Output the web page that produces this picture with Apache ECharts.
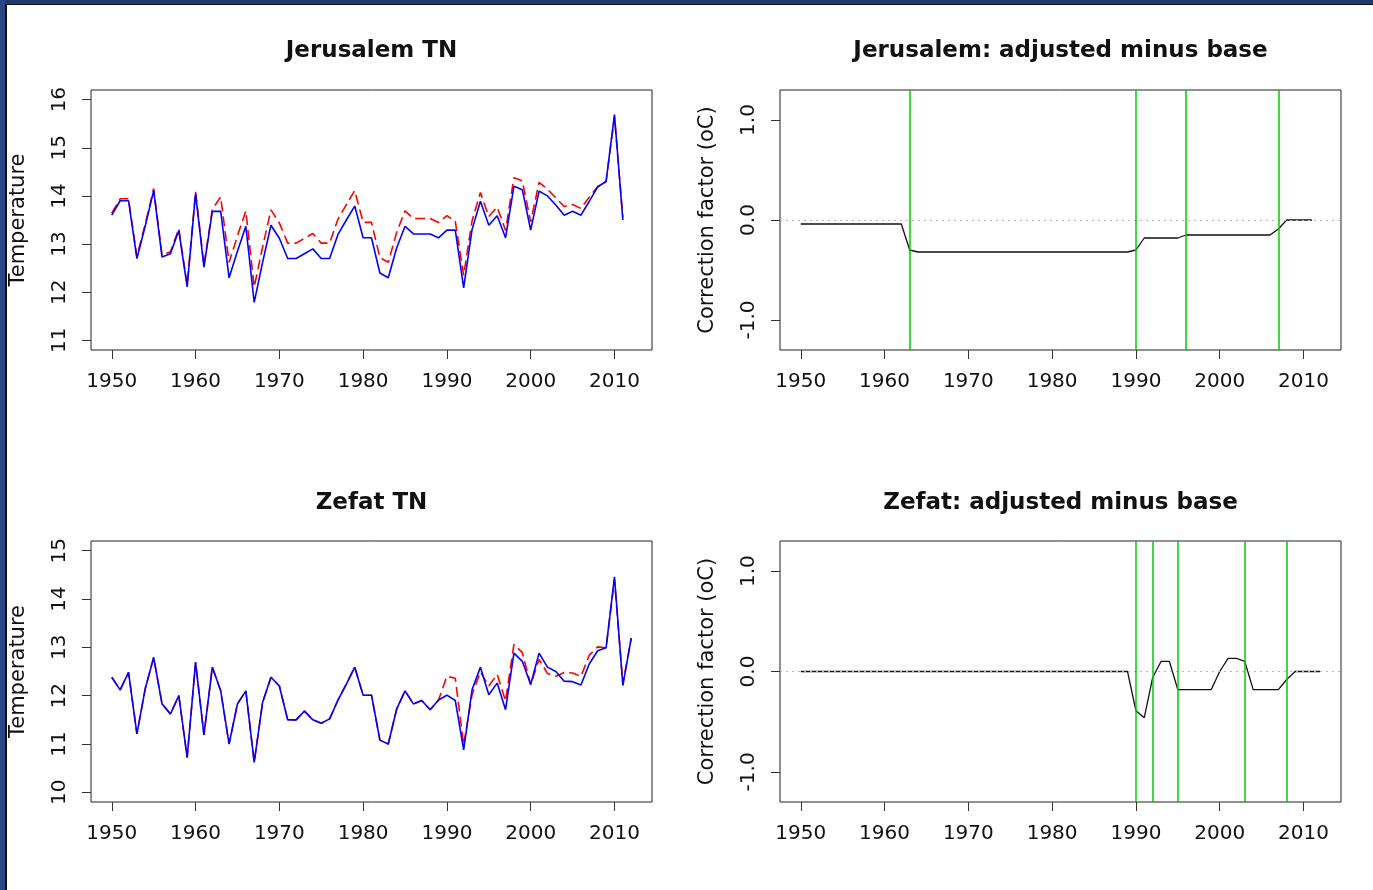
<!DOCTYPE html>
<html><head><meta charset="utf-8">
<script src="https://cdn.jsdelivr.net/npm/echarts@6/dist/echarts.min.js"></script>
<style>
html,body{margin:0;padding:0;background:#fff;}
#c{position:absolute;left:0;top:0;width:1373px;height:890px;}
.fb{position:absolute;}
</style></head><body>
<div id="c"></div>
<div class="fb" style="left:0;top:0;width:1373px;height:4px;background:#22386f"></div>
<div class="fb" style="left:0;top:4px;width:1373px;height:1px;background:#111"></div>
<div class="fb" style="left:0;top:0;width:5px;height:890px;background:#2a4584"></div>
<div class="fb" style="left:5px;top:4px;width:2px;height:886px;background:#111"></div>
<script>
// ---------- data ----------
const yearsJer = [1950,1951,1952,1953,1954,1955,1956,1957,1958,1959,
  1960,1961,1962,1963,1964,1965,1966,1967,1968,1969,
  1970,1971,1972,1973,1974,1975,1976,1977,1978,1979,
  1980,1981,1982,1983,1984,1985,1986,1987,1988,1989,
  1990,1991,1992,1993,1994,1995,1996,1997,1998,1999,
  2000,2001,2002,2003,2004,2005,2006,2007,2008,2009,
  2010,2011];
const yearsZef = [1950,1951,1952,1953,1954,1955,1956,1957,1958,1959,
  1960,1961,1962,1963,1964,1965,1966,1967,1968,1969,
  1970,1971,1972,1973,1974,1975,1976,1977,1978,1979,
  1980,1981,1982,1983,1984,1985,1986,1987,1988,1989,
  1990,1991,1992,1993,1994,1995,1996,1997,1998,1999,
  2000,2001,2002,2003,2004,2005,2006,2007,2008,2009,
  2010,2011,2012];

// Jerusalem TN: base (red dashed) and adjusted (blue)
const jerBase = [13.64,13.94,13.94,12.74,13.42,14.15,12.77,12.84,13.32,12.15,
  14.09,12.56,13.72,13.98,12.62,13.17,13.69,12.11,12.94,13.71,
  13.44,13.02,13.02,13.12,13.22,13.02,13.02,13.52,13.82,14.11,
  13.45,13.45,12.72,12.62,13.24,13.69,13.53,13.53,13.53,13.45,
  13.59,13.47,12.35,13.48,14.07,13.57,13.77,13.28,14.38,14.31,
  13.46,14.28,14.14,13.96,13.78,13.82,13.74,13.98,14.19,14.30,
  15.64,13.56];
const jerAdj = [13.60,13.90,13.90,12.70,13.38,14.11,12.73,12.80,13.28,12.11,
  14.05,12.52,13.68,13.68,12.30,12.85,13.37,11.79,12.62,13.39,
  13.12,12.70,12.70,12.80,12.90,12.70,12.70,13.20,13.50,13.79,
  13.13,13.13,12.40,12.30,12.92,13.37,13.21,13.21,13.21,13.13,
  13.29,13.29,12.09,13.30,13.89,13.39,13.59,13.13,14.20,14.13,
  13.29,14.10,14.00,13.81,13.60,13.68,13.60,13.89,14.19,14.30,
  15.69,13.50];
// Jerusalem: adjusted minus base
const jerCorr = [-0.04,-0.04,-0.04,-0.04,-0.04,-0.04,-0.04,-0.04,-0.04,-0.04,
  -0.04,-0.04,-0.04,-0.30,-0.32,-0.32,-0.32,-0.32,-0.32,-0.32,
  -0.32,-0.32,-0.32,-0.32,-0.32,-0.32,-0.32,-0.32,-0.32,-0.32,
  -0.32,-0.32,-0.32,-0.32,-0.32,-0.32,-0.32,-0.32,-0.32,-0.32,
  -0.30,-0.18,-0.18,-0.18,-0.18,-0.18,-0.15,-0.15,-0.15,-0.15,
  -0.15,-0.15,-0.15,-0.15,-0.15,-0.15,-0.15,-0.09,0.00,0.00,
  0.00,0.00];
const jerBreaks = [1963, 1990, 1996, 2007];

// Zefat TN: base (red dashed) and adjusted (blue)
const zefBase = [12.38,12.12,12.48,11.21,12.15,12.79,11.83,11.62,12.00,10.72,
  12.69,11.19,12.59,12.10,11.00,11.83,12.10,10.62,11.86,12.38,
  12.20,11.50,11.50,11.68,11.50,11.43,11.52,11.91,12.24,12.59,
  12.01,12.01,11.08,11.00,11.72,12.10,11.83,11.90,11.71,11.91,
  12.40,12.36,10.98,12.02,12.49,12.20,12.44,11.89,13.06,12.89,
  12.23,12.75,12.46,12.40,12.48,12.47,12.40,12.84,13.01,12.99,
  14.40,12.25,13.19];
const zefAdj = [12.38,12.12,12.48,11.21,12.15,12.79,11.83,11.62,12.00,10.72,
  12.69,11.19,12.59,12.10,11.00,11.83,12.10,10.62,11.86,12.38,
  12.20,11.50,11.50,11.68,11.50,11.43,11.52,11.91,12.24,12.59,
  12.01,12.01,11.08,11.00,11.72,12.10,11.83,11.90,11.71,11.91,
  12.01,11.90,10.88,12.12,12.59,12.02,12.26,11.71,12.88,12.71,
  12.23,12.88,12.59,12.50,12.30,12.29,12.22,12.66,12.93,12.99,
  14.46,12.21,13.19];
// Zefat: adjusted minus base
const zefCorr = [0,0,0,0,0,0,0,0,0,0,
  0,0,0,0,0,0,0,0,0,0,
  0,0,0,0,0,0,0,0,0,0,
  0,0,0,0,0,0,0,0,0,0,
  -0.39,-0.46,-0.06,0.10,0.10,-0.18,-0.18,-0.18,-0.18,-0.18,
  0.00,0.13,0.13,0.10,-0.18,-0.18,-0.18,-0.18,-0.08,0.00,
  0.00,0.00,0.00];
const zefBreaks = [1990, 1992, 1995, 2003, 2008];

// tick labels
const xTicks = [1950,1960,1970,1980,1990,2000,2010];
const yTicksJer = [11,12,13,14,15,16];
const yTicksZef = [10,11,12,13,14,15];
const yTicksCorr = [-1,0,1];

// ---------- chart ----------
const FONT = 'DejaVu Sans';
const INK = '#111';
const pairs = (xs, ys) => xs.map((x, i) => [x, ys[i]]);

const grids = [
  {left: 91, top: 90, width: 561, height: 260},
  {left: 780, top: 90, width: 561, height: 260},
  {left: 91, top: 541, width: 561, height: 261},
  {left: 780, top: 541, width: 561, height: 261}
].map(g => Object.assign({show: true, borderColor: '#222', borderWidth: 1, backgroundColor: 'transparent', outerBoundsMode: 'none', containLabel: false}, g));

function xAxisFor(gi) {
  return {
    gridIndex: gi, type: 'value', min: 1947.52, max: 2014.48, position: 'bottom',
    axisLine: {show: false, onZero: false}, splitLine: {show: false},
    axisTick: {show: true, length: 9, customValues: xTicks, lineStyle: {color: '#333', width: 1}},
    axisLabel: {customValues: xTicks, margin: 22, formatter: v => String(v), fontFamily: FONT, fontSize: 20, color: INK, hideOverlap: false}
  };
}
function yAxisFor(gi, min, max, ticks, name, fmt) {
  return {
    gridIndex: gi, type: 'value', min: min, max: max, position: 'left',
    name: name, nameLocation: 'middle', nameGap: 62, nameRotate: 90,
    nameMoveOverlap: false,
    nameTextStyle: {fontFamily: FONT, fontSize: 21, color: INK},
    axisLine: {show: false, onZero: false}, splitLine: {show: false},
    axisTick: {show: true, length: 9, customValues: ticks, lineStyle: {color: '#333', width: 1}},
    axisLabel: {customValues: ticks, rotate: 90, margin: 21, formatter: fmt, fontFamily: FONT, fontSize: 20, color: INK, hideOverlap: false}
  };
}
const intFmt = v => String(Math.round(v));
const corrFmt = v => v.toFixed(1);

function breakLines(breaks) {
  return [{yAxis: 0, lineStyle: {color: '#b8b8b8', type: [2, 4], width: 1}}]
    .concat(breaks.map(v => ({xAxis: v, lineStyle: {color: '#00cc00', type: 'solid', width: 1.5}})));
}

const titleStyle = {fontFamily: FONT, fontWeight: 'bold', fontSize: 23, color: INK};
const option = {
  animation: false,
  backgroundColor: '#ffffff',
  title: [
    {text: 'Jerusalem TN', left: 371.5, top: 40, textAlign: 'center', padding: 0, textStyle: titleStyle},
    {text: 'Jerusalem: adjusted minus base', left: 1060.5, top: 40, textAlign: 'center', padding: 0, textStyle: titleStyle},
    {text: 'Zefat TN', left: 371.5, top: 492, textAlign: 'center', padding: 0, textStyle: titleStyle},
    {text: 'Zefat: adjusted minus base', left: 1060.5, top: 492, textAlign: 'center', padding: 0, textStyle: titleStyle}
  ],
  grid: grids,
  xAxis: [xAxisFor(0), xAxisFor(1), xAxisFor(2), xAxisFor(3)],
  yAxis: [
    yAxisFor(0, 10.8, 16.2, yTicksJer, 'Temperature', intFmt),
    yAxisFor(1, -1.3, 1.3, yTicksCorr, 'Correction factor (oC)', corrFmt),
    yAxisFor(2, 9.8, 15.2, yTicksZef, 'Temperature', intFmt),
    yAxisFor(3, -1.3, 1.3, yTicksCorr, 'Correction factor (oC)', corrFmt)
  ],
  series: [
    {type: 'line', xAxisIndex: 0, yAxisIndex: 0, data: pairs(yearsJer, jerBase), symbol: 'none', z: 2,
     lineStyle: {color: '#ff0000', width: 1.6, type: [10, 5]}},
    {type: 'line', xAxisIndex: 0, yAxisIndex: 0, data: pairs(yearsJer, jerAdj), symbol: 'none', z: 3,
     lineStyle: {color: '#0000ff', width: 1.6}},
    {type: 'line', xAxisIndex: 1, yAxisIndex: 1, data: pairs(yearsJer, jerCorr), symbol: 'none', z: 3,
     lineStyle: {color: '#111', width: 1.3},
     markLine: {silent: true, symbol: ['none', 'none'], label: {show: false}, animation: false, data: breakLines(jerBreaks)}},
    {type: 'line', xAxisIndex: 2, yAxisIndex: 2, data: pairs(yearsZef, zefBase), symbol: 'none', z: 2,
     lineStyle: {color: '#ff0000', width: 1.6, type: [10, 5]}},
    {type: 'line', xAxisIndex: 2, yAxisIndex: 2, data: pairs(yearsZef, zefAdj), symbol: 'none', z: 3,
     lineStyle: {color: '#0000ff', width: 1.6}},
    {type: 'line', xAxisIndex: 3, yAxisIndex: 3, data: pairs(yearsZef, zefCorr), symbol: 'none', z: 3,
     lineStyle: {color: '#111', width: 1.3},
     markLine: {silent: true, symbol: ['none', 'none'], label: {show: false}, animation: false, data: breakLines(zefBreaks)}}
  ]
};
const chart = echarts.init(document.getElementById('c'), null, {renderer: 'canvas'});
chart.setOption(option);
</script>
</body></html>
